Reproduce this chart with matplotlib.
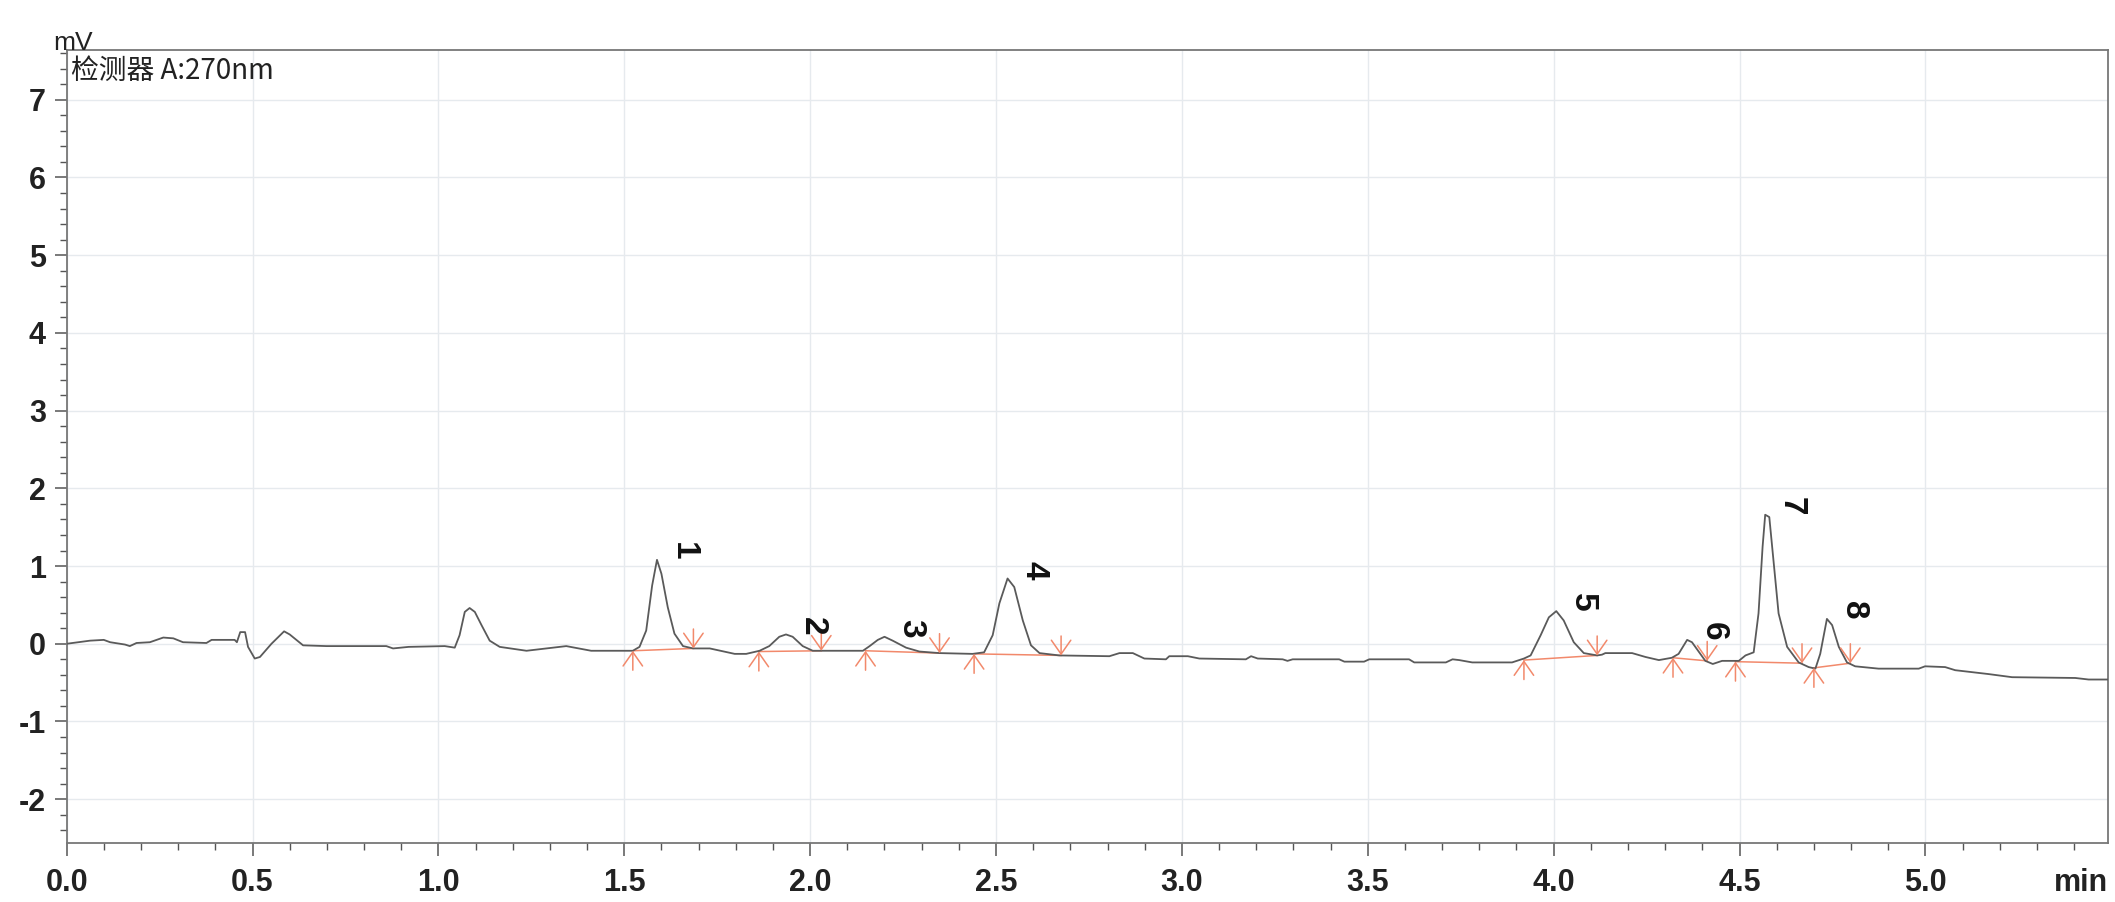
import numpy as np
import matplotlib
matplotlib.use('Agg')
import matplotlib.pyplot as plt
from matplotlib.ticker import MultipleLocator, FormatStrFormatter

plt.rcParams['font.family'] = ['Liberation Sans', 'Noto Sans CJK SC', 'DejaVu Sans']
plt.rcParams['axes.unicode_minus'] = False

# chromatogram trace (min, mV)
rt = [0.000, 0.063, 0.100, 0.117, 0.157, 0.170, 0.188, 0.224, 0.260, 0.287,
      0.313, 0.376, 0.390, 0.452, 0.458, 0.467, 0.480, 0.488, 0.506, 0.520,
      0.551, 0.585, 0.600, 0.636, 0.699, 0.860, 0.878, 0.920, 1.017, 1.044,
      1.057, 1.071, 1.084, 1.098, 1.116, 1.138, 1.165, 1.237, 1.290, 1.344,
      1.411, 1.523, 1.541, 1.559, 1.575, 1.588, 1.600, 1.617, 1.635, 1.658,
      1.685, 1.730, 1.797, 1.828, 1.864, 1.890, 1.917, 1.935, 1.953, 1.980,
      2.007, 2.030, 2.142, 2.160, 2.182, 2.200, 2.222, 2.258, 2.294, 2.348,
      2.437, 2.468, 2.491, 2.509, 2.531, 2.549, 2.572, 2.594, 2.617, 2.670,
      2.805, 2.832, 2.868, 2.899, 2.957, 2.966, 3.016, 3.047, 3.172, 3.186,
      3.204, 3.271, 3.284, 3.298, 3.423, 3.437, 3.490, 3.504, 3.611, 3.625,
      3.710, 3.728, 3.746, 3.781, 3.888, 3.920, 3.938, 3.965, 3.987, 4.007,
      4.027, 4.054, 4.081, 4.117, 4.130, 4.139, 4.211, 4.247, 4.283, 4.318,
      4.336, 4.359, 4.372, 4.408, 4.428, 4.453, 4.498, 4.516, 4.538, 4.551,
      4.562, 4.569, 4.580, 4.589, 4.605, 4.628, 4.659, 4.686, 4.704, 4.717,
      4.735, 4.749, 4.767, 4.789, 4.811, 4.874, 4.982, 4.999, 5.053, 5.080,
      5.170, 5.233, 5.403, 5.439, 5.490]
signal = [0.00, 0.04, 0.05, 0.02, -0.01, -0.03, 0.01, 0.02, 0.08, 0.07,
          0.02, 0.01, 0.05, 0.05, 0.02, 0.15, 0.15, -0.04, -0.19, -0.17,
          0.00, 0.16, 0.12, -0.02, -0.03, -0.03, -0.06, -0.04, -0.03, -0.05,
          0.11, 0.41, 0.46, 0.41, 0.24, 0.04, -0.04, -0.09, -0.06, -0.03,
          -0.09, -0.09, -0.04, 0.17, 0.75, 1.08, 0.90, 0.47, 0.13, -0.03,
          -0.06, -0.06, -0.13, -0.13, -0.09, -0.03, 0.09, 0.12, 0.09, -0.03,
          -0.09, -0.09, -0.09, -0.03, 0.05, 0.09, 0.04, -0.05, -0.10, -0.12,
          -0.13, -0.11, 0.11, 0.52, 0.84, 0.73, 0.30, -0.02, -0.12, -0.15,
          -0.16, -0.12, -0.12, -0.19, -0.20, -0.16, -0.16, -0.19, -0.20, -0.16,
          -0.19, -0.20, -0.22, -0.20, -0.20, -0.23, -0.23, -0.20, -0.20, -0.24,
          -0.24, -0.20, -0.21, -0.24, -0.24, -0.19, -0.15, 0.11, 0.34, 0.42,
          0.30, 0.02, -0.12, -0.15, -0.14, -0.12, -0.12, -0.17, -0.21, -0.18,
          -0.13, 0.05, 0.02, -0.22, -0.26, -0.22, -0.22, -0.15, -0.11, 0.39,
          1.25, 1.66, 1.63, 1.18, 0.39, -0.04, -0.24, -0.30, -0.32, -0.13,
          0.32, 0.24, -0.04, -0.24, -0.29, -0.32, -0.32, -0.29, -0.30, -0.34,
          -0.39, -0.43, -0.44, -0.46, -0.46]

# integrated peaks
peak_ids = ['1', '2', '3', '4', '5', '6', '7', '8']
peak_rt = [1.588, 1.935, 2.200, 2.531, 4.007, 4.359, 4.569, 4.735]
peak_top = [1.08, 0.12, 0.09, 0.84, 0.42, 0.05, 1.66, 0.32]
base_t0 = [1.523, 1.862, 2.149, 2.441, 3.920, 4.321, 4.489, 4.700]
base_y0 = [-0.09, -0.10, -0.09, -0.13, -0.21, -0.18, -0.23, -0.31]
base_t1 = [1.686, 2.030, 2.348, 2.675, 4.117, 4.413, 4.668, 4.798]
base_y1 = [-0.06, -0.09, -0.12, -0.15, -0.15, -0.22, -0.25, -0.25]

fig = plt.figure(figsize=(21.15, 9.02), dpi=100)
ax = fig.add_axes([0.0315, 0.0657, 0.9650, 0.8789])

ax.plot(rt, signal, color='#5a5a5a', lw=1.3, zorder=3)

base_col = '#f2896b'
for i in range(len(peak_ids)):
    ax.plot([base_t0[i], base_t1[i]], [base_y0[i], base_y1[i]],
            color=base_col, lw=1.1, zorder=2)
    # start marker from below, end marker from above
    ax.annotate('', xy=(base_t0[i], base_y0[i]), xytext=(base_t0[i], base_y0[i] - 0.25),
                arrowprops=dict(arrowstyle='->,head_length=0.5,head_width=0.35',
                                color=base_col, lw=1.1,
                                shrinkA=0, shrinkB=0, mutation_scale=20))
    ax.annotate('', xy=(base_t1[i], base_y1[i]), xytext=(base_t1[i], base_y1[i] + 0.25),
                arrowprops=dict(arrowstyle='->,head_length=0.5,head_width=0.35',
                                color=base_col, lw=1.1,
                                shrinkA=0, shrinkB=0, mutation_scale=20))
    ax.annotate(peak_ids[i], xy=(peak_rt[i], peak_top[i]), xytext=(19, 6),
                textcoords='offset points', rotation=-90, ha='center', va='center',
                fontsize=24, fontweight='bold', color='#111111')

ax.set_xlim(0, 5.49)
ax.set_ylim(-2.56, 7.64)

ax.set_xticks(np.arange(0, 5.01, 0.5))
ax.xaxis.set_major_formatter(FormatStrFormatter('%.1f'))
ax.xaxis.set_minor_locator(MultipleLocator(0.1))
ax.set_yticks(np.arange(-2, 8, 1))
ax.yaxis.set_minor_locator(MultipleLocator(0.2))

ax.grid(True, which='major', color='#e6eaee', lw=1.0, zorder=0)
ax.set_axisbelow(True)

for s in ax.spines.values():
    s.set_color('#777777')
    s.set_linewidth(1.3)

ax.tick_params(which='major', direction='out', length=9, width=1.1, color='#555555',
               labelsize=22, pad=9)
ax.tick_params(which='minor', direction='out', length=5, width=1.0, color='#555555')
ax.tick_params(axis='y', which='major', pad=6)
for lab in ax.get_xticklabels() + ax.get_yticklabels():
    lab.set_fontweight('bold')
    lab.set_color('#222222')

ax.text(0.003, 1.0, 'mV', transform=ax.transAxes, ha='center', va='baseline',
        fontsize=19, color='#222222')
ax.text(1.0, -0.032, 'min', transform=ax.transAxes, ha='right', va='top',
        fontsize=22, fontweight='bold', color='#222222')
ax.text(0.002, 0.992, '检测器 A:270nm', transform=ax.transAxes, ha='left', va='top',
        fontsize=20, color='#222222', family=['Noto Sans CJK SC', 'DejaVu Sans'])

fig.savefig('out.png', dpi=100)
